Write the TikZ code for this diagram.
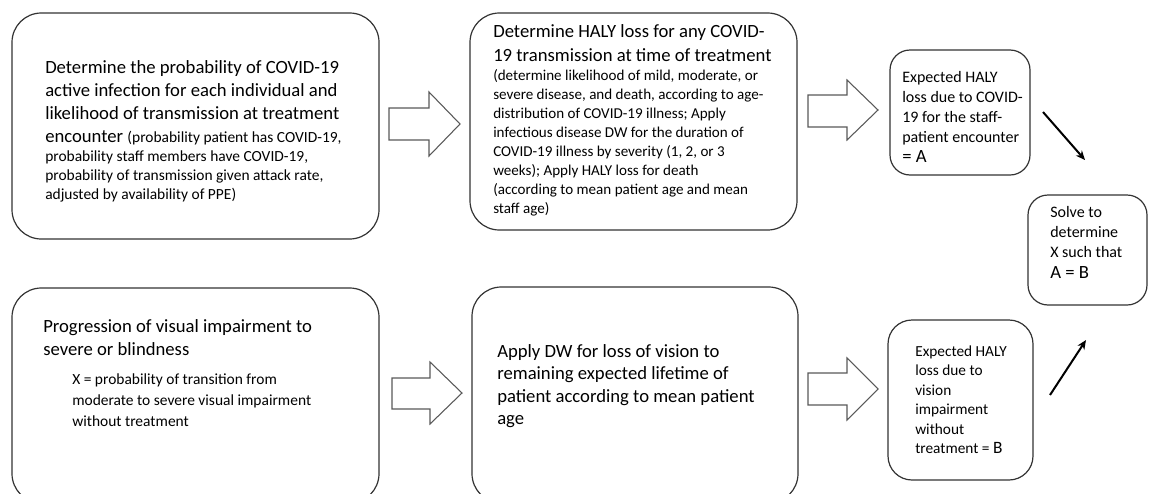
\documentclass[tikz,border=0pt]{standalone}
\usepackage{fontspec}
\setmainfont{Carlito}
\usetikzlibrary{fit,arrows.meta}
\newcommand{\mainsz}{\fontsize{14}{17}\selectfont}
\newcommand{\topstrut}{\rule{0pt}{11pt}}
\begin{document}
\begin{tikzpicture}[x=0.75pt,y=-0.75pt,
  box/.style={draw=black!80,line width=0.9pt,inner sep=0pt},
  txt/.style={anchor=north west,align=left,inner sep=0pt,text=black},
  blockarrow/.style={draw=black!65,line width=0.8pt,fill=white,line join=miter},
  link/.style={line width=1.5pt,-{Stealth[length=7pt,width=6pt]}}]
\useasboundingbox (0,0) rectangle (1149,493);
% boxes
\node[box,rounded corners=22pt,fit={(12,13)(379,239)}] (p1) {};
\node[box,rounded corners=22pt,fit={(470,13)(797,230)}] (p2) {};
\node[box,rounded corners=15pt,fit={(890,50)(1030,175)}] (pa) {};
\node[box,rounded corners=15pt,fit={(1028,195)(1147,305)}] (ps) {};
\node[box,rounded corners=22pt,fit={(12,288)(379,503)}] (q1) {};
\node[box,rounded corners=22pt,fit={(472,287)(798,503)}] (q2) {};
\node[box,rounded corners=18pt,fit={(888,320)(1033,480)}] (pb) {};
% texts
\node[txt,font=\fontsize{11.6}{14.25}\selectfont] (t1) at (45,58.3)
 {\topstrut{\mainsz Determine the probability of COVID-19}\\[3pt]
  {\mainsz active infection for each individual and}\\[3pt]
  {\mainsz likelihood of transmission at treatment}\\[3pt]
  {\mainsz encounter }(probability patient has COVID-19,\\
  probability staff members have COVID-19,\\
  probability of transmission given attack rate,\\
  adjusted by availability of PPE)};
\node[txt,font=\fontsize{11.3}{14.25}\selectfont] (t2) at (493,22.3)
 {\topstrut{\mainsz Determine HALY loss for any COVID-}\\[3.75pt]
  {\mainsz 19 transmission at time of treatment}\\
  (determine likelihood of mild, moderate, or\\
  severe disease, and death, according to age-\\
  distribution of COVID-19 illness; Apply\\
  infectious disease DW for the duration of\\
  COVID-19 illness by severity (1, 2, or 3\\
  weeks); Apply HALY loss for death\\
  (according to mean patient age and mean\\
  staff age)};
\node[txt,font=\fontsize{12}{15}\selectfont] (ta) at (902,67.3)
 {\topstrut Expected HALY\\ loss due to COVID-\\ 19 for the staff-\\ patient encounter\\ {\fontsize{14}{15}\selectfont = A}};
\node[txt,font=\fontsize{12}{15}\selectfont] (ts) at (1050,202.3)
 {\topstrut Solve to\\ determine\\ X such that\\[1pt] {\fontsize{14}{15}\selectfont A = B}};
\node[txt,font=\fontsize{11.5}{14.6}\selectfont] (tb) at (915,341.3)
 {\topstrut Expected HALY\\ loss due to\\ vision\\ impairment\\ without\\ treatment = {\fontsize{13}{14}\selectfont B}};
\node[txt,font=\fontsize{14}{17.25}\selectfont] (t3) at (43,317.3)
 {\topstrut Progression of visual impairment to\\ severe or blindness};
\node[txt,font=\fontsize{11.6}{15.75}\selectfont] (t3b) at (72,369.3)
 {\topstrut X = probability of transition from\\ moderate to severe visual impairment\\ without treatment};
\node[txt,font=\fontsize{14}{16.9}\selectfont] (t4) at (497,342.3)
 {\topstrut Apply DW for loss of vision to\\ remaining expected lifetime of\\ patient according to mean patient\\ age};
% block arrows
\draw[blockarrow] (389,108) -- (429,108) -- (429,92) -- (460,124) -- (429,156) -- (429,140) -- (389,140) -- cycle;
\draw[blockarrow] (808,95) -- (847,95) -- (847,80) -- (878,110) -- (847,140) -- (847,127) -- (808,127) -- cycle;
\draw[blockarrow] (392,378) -- (430,378) -- (430,362) -- (462,393) -- (430,424) -- (430,409) -- (392,409) -- cycle;
\draw[blockarrow] (808,373) -- (847,373) -- (847,358) -- (878,389) -- (847,420) -- (847,405) -- (808,405) -- cycle;
% line arrows
\coordinate (a1) at (1043,112);
\coordinate (a2) at (1085,160);
\coordinate (b1) at (1050,395);
\coordinate (b2) at (1086,340);
\draw[link] (a1) -- (a2);
\draw[link] (b1) -- (b2);
\end{tikzpicture}
\end{document}
